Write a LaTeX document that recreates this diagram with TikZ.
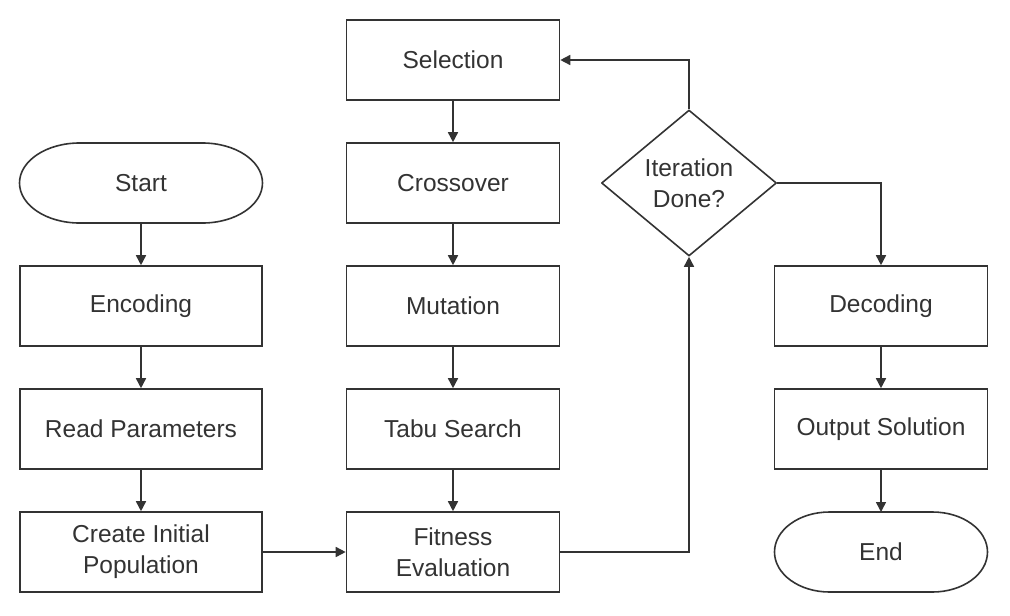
\documentclass[tikz,border=0pt]{standalone}
\usepackage{fontspec}
\setmainfont{Liberation Sans}
\usetikzlibrary{shapes.geometric,arrows.meta}
\definecolor{ink}{HTML}{333333}
\begin{document}
\begin{tikzpicture}[x=1pt,y=-1pt,
  line width=1.6pt, color=ink, line join=round,
  every node/.style={font=\fontsize{24.5}{31}\selectfont, text=ink, align=center},
  lbox/.style={draw=ink, rectangle, minimum width=242pt, minimum height=80pt, inner sep=0pt, line join=miter},
  mbox/.style={lbox, minimum width=213pt},
  term/.style={rectangle, minimum height=80pt, inner sep=0pt, outer sep=0pt},
  decision/.style={draw=ink, diamond, aspect=1.2, minimum width=175pt, minimum height=146pt, inner sep=0pt},
  arr/.style={-{Triangle[length=10pt,width=10pt]}, draw=ink, line join=miter}]
\useasboundingbox[fill=white] (0,0) rectangle (1010,616);

% left column
\node[term, minimum width=243pt] (start) at (141,183) {Start};
\draw ([xshift=60pt]start.south west) -- ([xshift=-60pt]start.south east)
  arc[start angle=-90, end angle=90, x radius=60pt, y radius=40pt]
  -- ([xshift=60pt]start.north west)
  arc[start angle=90, end angle=270, x radius=60pt, y radius=40pt] -- cycle;
\node[lbox] (enc) at (141,306) {Encoding};
\node[lbox] (read) at (141,429) {Read Parameters};
\node[lbox] (create) at (141,552) {Create Initial\\Population};

% middle column
\node[mbox] (sel) at (453,60) {Selection};
\node[mbox] (cross) at (453,183) {Crossover};
\node[mbox] (mut) at (453,306) {Mutation};
\node[mbox] (tabu) at (453,429) {Tabu Search};
\node[mbox] (fit) at (453,552) {Fitness\\Evaluation};

% decision
\node[decision] (iter) at (689,183) {Iteration\\Done?};

% right column
\node[mbox] (dec) at (881,306) {Decoding};
\node[mbox] (out) at (881,429) {Output Solution};
\node[term, minimum width=213pt] (fin) at (881,552) {End};
\draw ([xshift=55pt]fin.south west) -- ([xshift=-55pt]fin.south east)
  arc[start angle=-90, end angle=90, x radius=55pt, y radius=40pt]
  -- ([xshift=55pt]fin.north west)
  arc[start angle=90, end angle=270, x radius=55pt, y radius=40pt] -- cycle;

% connectors
\draw[arr] (start) -- (enc);
\draw[arr] (enc) -- (read);
\draw[arr] (read) -- (create);
\draw[arr] (create) -- (fit);
\draw[arr] (sel) -- (cross);
\draw[arr] (cross) -- (mut);
\draw[arr] (mut) -- (tabu);
\draw[arr] (tabu) -- (fit);
\draw[arr] (fit.east) -| (iter.south);
\draw[arr] (iter.north) |- (sel.east);
\draw[arr] (iter.east) -| (dec.north);
\draw[arr] (dec) -- (out);
\draw[arr] (out) -- (fin);
\end{tikzpicture}
\end{document}
